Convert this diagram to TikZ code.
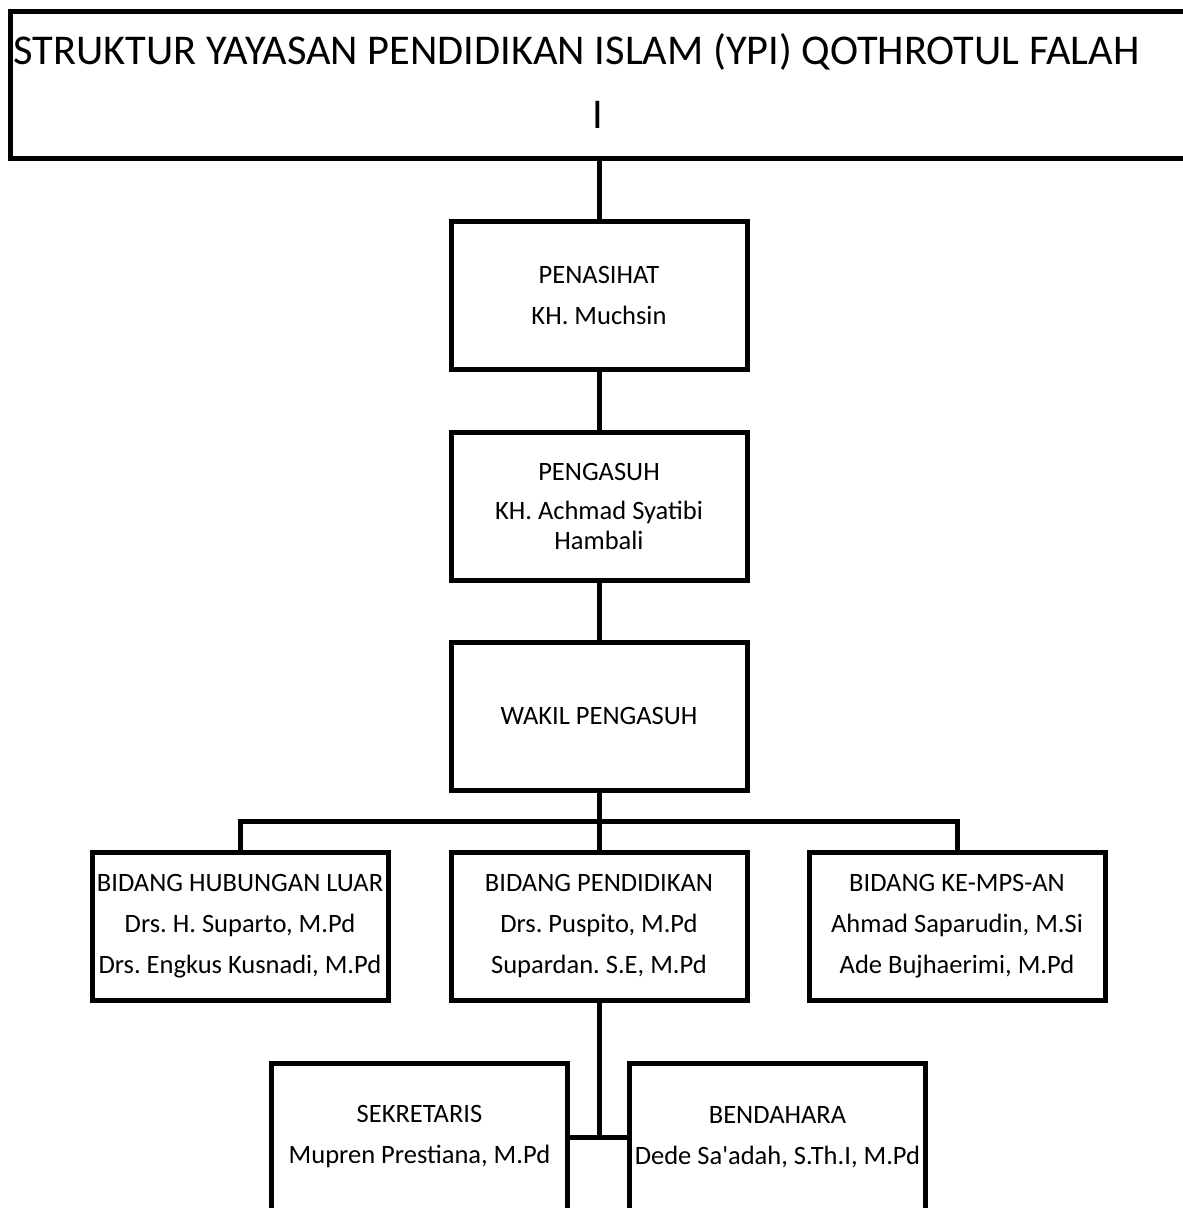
\documentclass[tikz,border=0pt]{standalone}
\usepackage{fontspec}
\newfontfamily\calfont{Carlito}
\begin{document}
\frenchspacing
\begin{tikzpicture}[x=1pt,y=-1pt,
  box/.style={draw, line width=5pt, minimum width=296pt, minimum height=148pt,
    inner sep=0pt, outer sep=0pt, align=center, font=\calfont\fontsize{26.5}{30}\selectfont},
  titletext/.style={anchor=base, inner sep=0pt, font=\calfont\fontsize{42.4}{48}\selectfont},
  conn/.style={line width=5pt}]
\useasboundingbox (0,0) rectangle (1183,1208);
\fill[white] (0,0) rectangle (1183,1208);
% title
\node[draw, line width=5pt, minimum width=1178pt, minimum height=147pt,
  inner sep=0pt, outer sep=0pt] (title) at (599,84.5) {};
\node[titletext] (t1) at (576.5,64) {STRUKTUR YAYASAN PENDIDIKAN ISLAM (YPI) QOTHROTUL FALAH};
\node[titletext] (t2) at (598,128) {I};
% chain
\node[box] (pen) at (599,295) {PENASIHAT\\[11pt]KH. Muchsin};
\node[box] (peng) at (599,506) {PENGASUH\\[9pt]KH. Achmad Syatibi\\Hambali};
\node[box] (wakil) at (599,716) {WAKIL PENGASUH};
% bidang
\node[box] (hub) at (240,926.5) {BIDANG HUBUNGAN LUAR\\[11pt]Drs. H. Suparto, M.Pd\\[11pt]Drs. Engkus Kusnadi, M.Pd};
\node[box] (mid) at (599,926.5) {BIDANG PENDIDIKAN\\[11pt]Drs. Puspito, M.Pd\\[11pt]Supardan. S.E, M.Pd};
\node[box] (mps) at (957,926.5) {BIDANG KE-MPS-AN\\[11pt]Ahmad Saparudin, M.Si\\[11pt]Ade Bujhaerimi, M.Pd};
% bottom
\node[box] (sek) at (419.5,1137) {SEKRETARIS\\[11pt]Mupren Prestiana, M.Pd};
\node[box] (ben) at (777.5,1137) {BENDAHARA\\[11pt]Dede Sa'adah, S.Th.I, M.Pd};
% connectors
\coordinate (bar) at (599,821);
\draw[conn] (title.south) -- (pen.north);
\draw[conn] (pen.south) -- (peng.north);
\draw[conn] (peng.south) -- (wakil.north);
\draw[conn] (wakil.south) -- (mid.north);
\draw[conn] (hub.north) -- (hub.north |- bar) -- (mps.north |- bar) -- (mps.north);
\draw[conn] (mid.south) -- (mid.south |- sek.east);
\draw[conn] (sek.east) -- (ben.west);
\end{tikzpicture}
\end{document}
